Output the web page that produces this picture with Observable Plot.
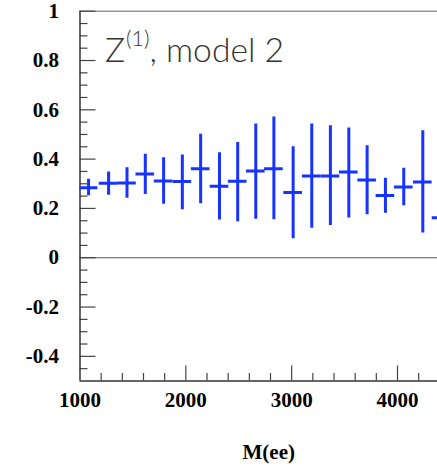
<!DOCTYPE html>
<html><head><meta charset="utf-8">
<script src="https://cdn.jsdelivr.net/npm/d3@7"></script>
<script src="https://cdn.jsdelivr.net/npm/@observablehq/plot@0.6"></script>
<style>html,body{margin:0;padding:0;background:#fff;overflow:hidden}</style>
</head><body><div id="chart"></div>
<script>
// Bin centres in M(ee) and measured values with error-bar ends
const massCenters = [1081, 1270, 1444, 1617, 1790, 1967, 2140, 2318, 2490, 2661, 2832, 3014, 3190, 3366, 3540, 3713, 3886, 4059, 4239, 4416];
const values      = [0.284, 0.302, 0.303, 0.340, 0.311, 0.309, 0.361, 0.290, 0.310, 0.352, 0.361, 0.265, 0.332, 0.332, 0.348, 0.315, 0.252, 0.287, 0.307, 0.162];
const errUpper    = [0.318, 0.348, 0.365, 0.420, 0.406, 0.417, 0.501, 0.426, 0.467, 0.542, 0.571, 0.450, 0.542, 0.535, 0.526, 0.454, 0.322, 0.363, 0.515, 0.330];
const errLower    = [0.251, 0.253, 0.241, 0.256, 0.217, 0.195, 0.219, 0.153, 0.146, 0.156, 0.154, 0.077, 0.120, 0.131, 0.161, 0.174, 0.180, 0.211, 0.100, 0.000];
const binHalfWidth = 88;

const xMajorTicks = [1000, 2000, 3000, 4000];
const xTickLabels = ["1000", "2000", "3000", "4000"];
const xMinorTicks = [1200, 1400, 1600, 1800, 2200, 2400, 2600, 2800, 3200, 3400, 3600, 3800, 4200];
const yMajorTicks = [1, 0.8, 0.6, 0.4, 0.2, 0, -0.2, -0.4];
const yTickLabels = ["1", "0.8", "0.6", "0.4", "0.2", "0", "-0.2", "-0.4"];
const yMinorTicks = [0.95, 0.9, 0.85, 0.75, 0.7, 0.65, 0.55, 0.5, 0.45, 0.35, 0.3, 0.25, 0.15, 0.1, 0.05,
                     -0.05, -0.1, -0.15, -0.25, -0.3, -0.35, -0.45];
const titleMain = "Z", titleSup = "(1)", titleRest = ", model 2";
const xLabel = "M(ee)";

const W = 437, H = 467;
const mL = 79.5, mT = 10.7, mB = 86.5, mR = 0;
const frameW = W - mL - mR, frameH = H - mT - mB;

const data = massCenters.map((m, i) => ({m, v: values[i], hi: errUpper[i], lo: errLower[i]}));
const blue = "#1733ff";
const axisCol = "#444";
const labelFont = {fontFamily: "Liberation Serif, Times New Roman, serif", fontWeight: "bold", fontSize: 21, fill: "#000"};
const titleFull = titleMain + titleSup + titleRest;

const chart = Plot.plot({
  width: W, height: H,
  marginLeft: mL, marginTop: mT, marginBottom: mB, marginRight: mR,
  x: {domain: [1000, 4378], axis: null},
  y: {domain: [-0.5, 1], axis: null},
  style: {background: "#fff", overflow: "visible"},
  marks: [
    // frame
    Plot.ruleY([1], {stroke: "#999", strokeWidth: 1.5}),
    Plot.ruleY([0], {stroke: "#555", strokeWidth: 1.2}),
    // ticks (inside the frame)
    Plot.ruleX(xMajorTicks.slice(1), {x: d => d, insetTop: frameH - 15, stroke: axisCol, strokeWidth: 1.2}),
    Plot.ruleX(xMinorTicks, {x: d => d, insetTop: frameH - 7.5, stroke: axisCol, strokeWidth: 1.2}),
    Plot.ruleY(yMajorTicks, {y: d => d, insetRight: frameW - 16, stroke: axisCol, strokeWidth: 1.2}),
    Plot.ruleY(yMinorTicks, {y: d => d, insetRight: frameW - 8, stroke: axisCol, strokeWidth: 1.2}),
    Plot.ruleY([-0.5], {stroke: "#333", strokeWidth: 1.5}),
    Plot.ruleX([1000], {stroke: "#333", strokeWidth: 1.5}),
    // data: vertical error bars and horizontal bin widths
    Plot.ruleX(data, {x: "m", y1: "lo", y2: "hi", stroke: blue, strokeWidth: 3, clip: true}),
    Plot.ruleY(data, {y: "v", x1: d => d.m - binHalfWidth, x2: d => d.m + binHalfWidth, stroke: blue, strokeWidth: 3, clip: true}),
    // tick labels
    Plot.text(xMajorTicks, {x: d => d, y: -0.5, text: (d, i) => xTickLabels[i], dy: 19, lineAnchor: "middle", ...labelFont}),
    Plot.text(yMajorTicks, {x: 1000, y: d => d, text: (d, i) => yTickLabels[i], dx: -21, textAnchor: "end", lineAnchor: "middle", ...labelFont}),
    // axis title
    Plot.text([xLabel], {frameAnchor: "bottom", text: d => d, dx: 10, dy: 71, lineAnchor: "middle", ...labelFont}),
    // in-plot title
    Plot.text([titleFull], {frameAnchor: "top-left", text: d => d, dx: 25, dy: 51, textAnchor: "start", lineAnchor: "bottom",
      fontFamily: "Lato, DejaVu Sans, sans-serif", fontWeight: 300, fontSize: 33, fill: "#333"})
  ]
});
document.getElementById("chart").appendChild(chart);

// give the title its raised superscript, keeping all of it as real text
for (const t of chart.querySelectorAll("text")) {
  if (t.textContent === titleFull) {
    const ns = "http://www.w3.org/2000/svg";
    t.textContent = "";
    const a = document.createElementNS(ns, "tspan"); a.textContent = titleMain;
    const b = document.createElementNS(ns, "tspan"); b.textContent = titleSup;
    b.setAttribute("font-size", 21); b.setAttribute("dy", -16); b.setAttribute("dx", 1);
    const c = document.createElementNS(ns, "tspan"); c.textContent = titleRest; c.setAttribute("dy", 16);
    t.append(a, b, c);
    const len = t.getComputedTextLength();
    if (len > 0) { t.setAttribute("textLength", 179); t.setAttribute("lengthAdjust", "spacingAndGlyphs"); }
  }
}
</script>
</body></html>
